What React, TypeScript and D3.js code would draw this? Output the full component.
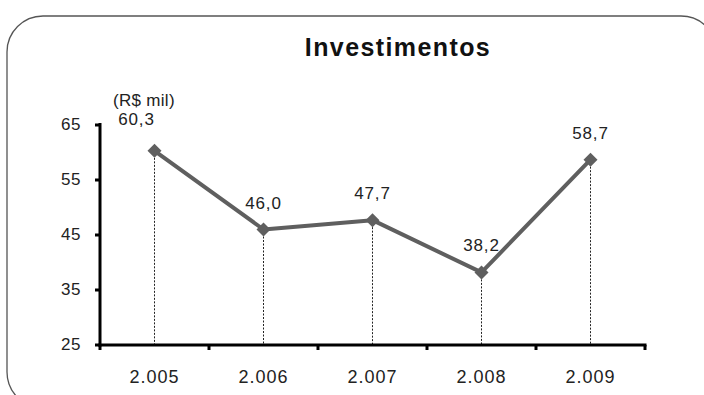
import React from "react";
import * as d3 from "d3";

const years = ["2.005", "2.006", "2.007", "2.008", "2.009"];
const values = [60.3, 46.0, 47.7, 38.2, 58.7];
const yTicks = [25, 35, 45, 55, 65];

const W = 704;
const H = 395;
const FONT = "'Liberation Sans', Arial, sans-serif";

export default function App() {
  const x = d3.scaleBand<string>().domain(years).range([100, 645]);
  const y = d3.scaleLinear().domain([25, 65]).range([345, 125]);
  const cx = (d: string) => (x(d) ?? 0) + x.bandwidth() / 2;

  const line = d3
    .line<number>()
    .x((_, i) => cx(years[i]))
    .y((v) => y(v));

  const fmt = (v: number) => v.toFixed(1).replace(".", ",");
  const bandEdges = years.map((d) => x(d) ?? 0).concat([x.range()[1]]);

  return (
    <svg
      width={W}
      height={H}
      style={{ position: "absolute", left: 0, top: 0, background: "#fff" }}
    >
      <rect x={7} y={16} width={710} height={392} rx={36} ry={36} fill="#fff" stroke="#555" strokeWidth={1.3} />

      <text x={398} y={56} textAnchor="middle" fontFamily={FONT} fontWeight="bold" fontSize={25} letterSpacing={1.4} fill="#111">
        Investimentos
      </text>

      <text x={113} y={106} fontFamily={FONT} fontSize={17} fill="#222" letterSpacing={0.3}>
        (R$ mil)
      </text>

      {/* dotted drop lines */}
      {values.map((v, i) => (
        <line
          key={"drop" + i}
          x1={cx(years[i])}
          x2={cx(years[i])}
          y1={y(v)}
          y2={y(25)}
          stroke="#222"
          strokeWidth={1}
          strokeDasharray="2,1.5"
        />
      ))}

      {/* y axis */}
      <line x1={100} x2={100} y1={y(65) - 2} y2={y(25) + 1.5} stroke="#000" strokeWidth={3} />
      {yTicks.map((t) => (
        <g key={"yt" + t}>
          <line x1={95} x2={100} y1={y(t)} y2={y(t)} stroke="#000" strokeWidth={3} />
          <text x={81} y={y(t) + 5} textAnchor="end" fontFamily={FONT} fontSize={17} letterSpacing={0.5} fill="#222">
            {t}
          </text>
        </g>
      ))}

      {/* x axis */}
      <line x1={98.5} x2={646.5} y1={y(25)} y2={y(25)} stroke="#000" strokeWidth={3} />
      {bandEdges.map((e, i) => (
        <line key={"xt" + i} x1={e} x2={e} y1={y(25)} y2={y(25) + 5} stroke="#000" strokeWidth={3} />
      ))}
      {years.map((d) => (
        <text key={"xl" + d} x={cx(d)} y={383} textAnchor="middle" fontFamily={FONT} fontSize={18} letterSpacing={1} fill="#222">
          {d}
        </text>
      ))}

      {/* series */}
      <path d={line(values) ?? ""} fill="none" stroke="#5f5f5f" strokeWidth={4} strokeLinejoin="round" />
      {values.map((v, i) => {
        const px = cx(years[i]);
        const py = y(v);
        const s = 7;
        return (
          <path
            key={"m" + i}
            d={`M${px},${py - s}L${px + s},${py}L${px},${py + s}L${px - s},${py}Z`}
            fill="#5f5f5f"
          />
        );
      })}
      {values.map((v, i) => (
        <text
          key={"lbl" + i}
          x={cx(years[i]) + (i === 0 ? -18 : 0)}
          y={y(v) - (i === 0 ? 26 : 21)}
          textAnchor="middle"
          fontFamily={FONT}
          fontSize={17}
          letterSpacing={0.8}
          fill="#222"
        >
          {fmt(v)}
        </text>
      ))}
    </svg>
  );
}
